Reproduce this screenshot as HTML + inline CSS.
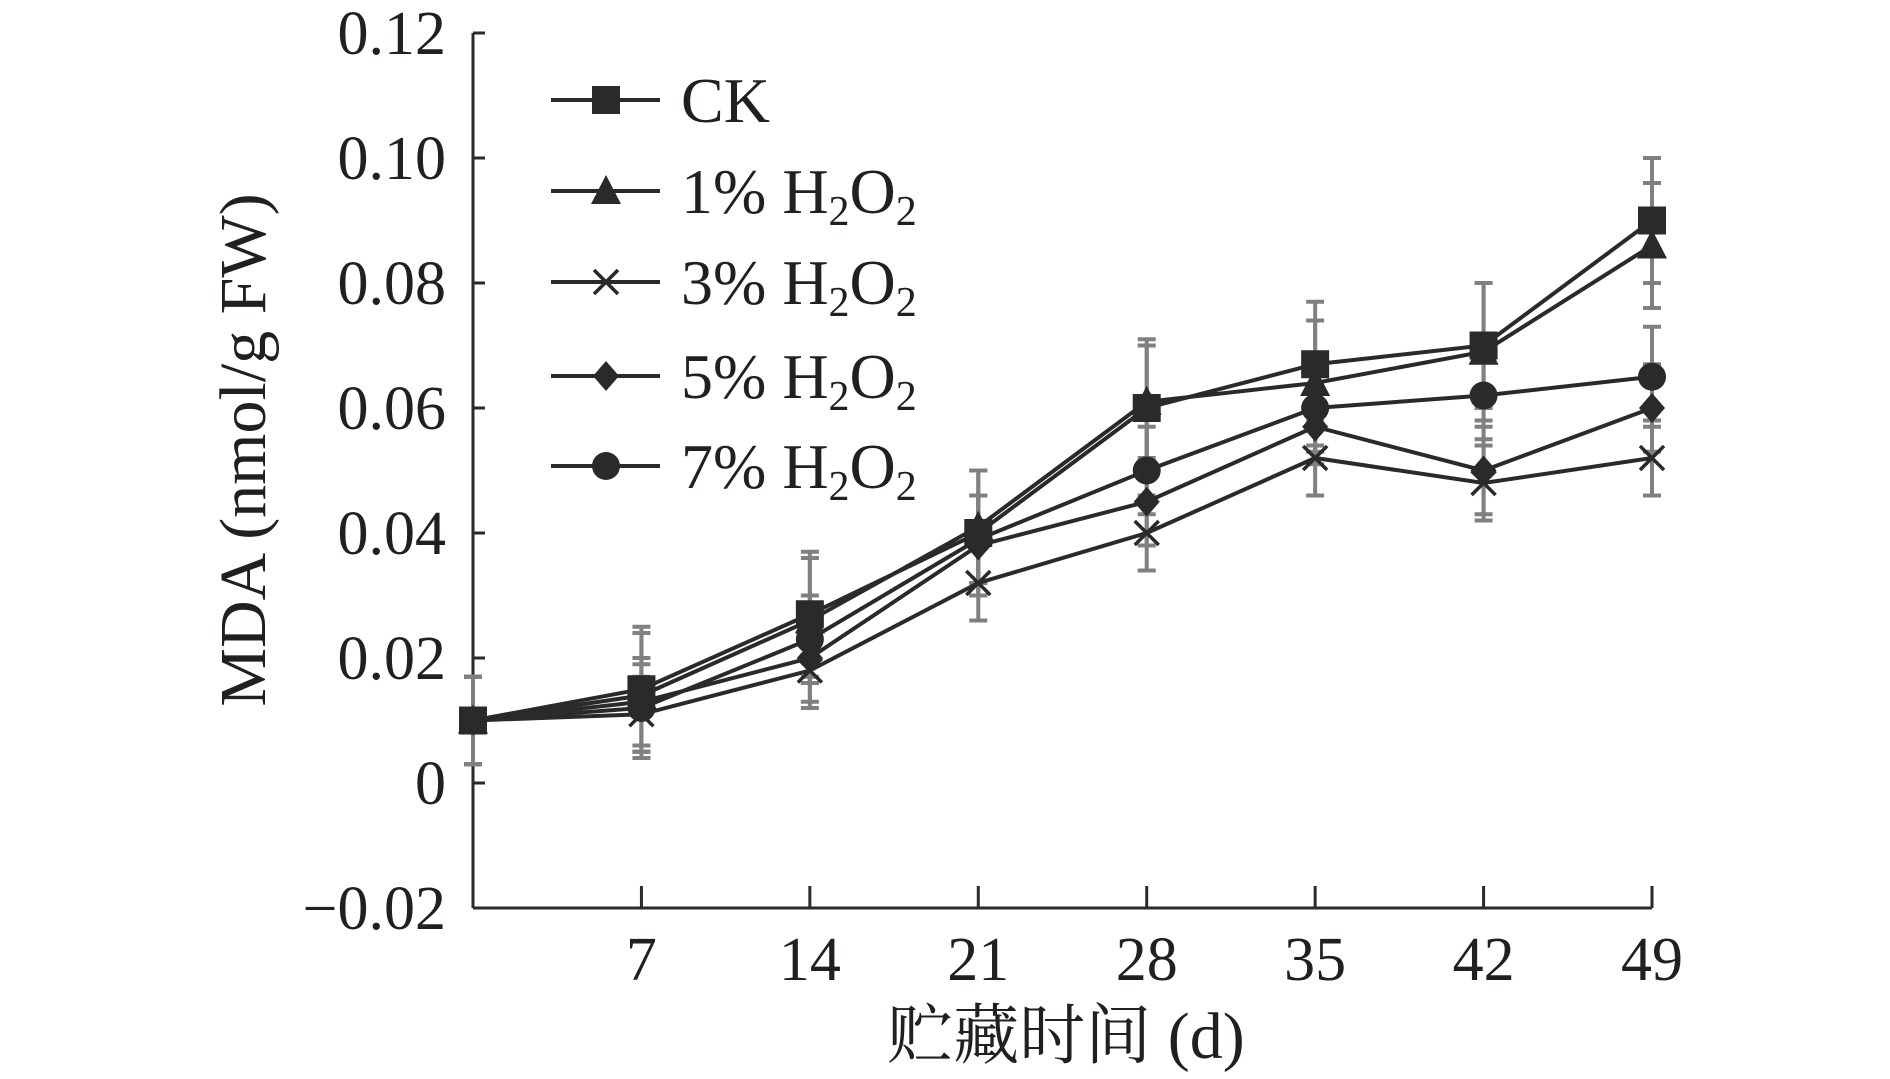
<!DOCTYPE html>
<html><head><meta charset="utf-8"><style>
html,body{margin:0;padding:0;background:#fff;}
svg{display:block;}
text{font-family:"Liberation Serif","Noto Serif CJK SC",serif;fill:#231f20;}
</style></head><body>
<svg id="chart" width="1890" height="1079" viewBox="0 0 1890 1079" xmlns="http://www.w3.org/2000/svg"></svg>
<script>
const days=[0,7,14,21,28,35,42,49];
const xTicks=[7,14,21,28,35,42,49];
const yTicks=[-0.02,0,0.02,0.04,0.06,0.08,0.10,0.12];
const yTickLabels=["\u22120.02","0","0.02","0.04","0.06","0.08","0.10","0.12"];
const seriesNames=["CK","1%","3%","5%","7%"];
const ck=[0.010,0.015,0.027,0.040,0.060,0.067,0.070,0.090];
const h1=[0.010,0.014,0.026,0.041,0.061,0.064,0.069,0.086];
const h3=[0.010,0.011,0.018,0.032,0.040,0.052,0.048,0.052];
const h5=[0.010,0.013,0.020,0.038,0.045,0.057,0.050,0.060];
const h7=[0.010,0.012,0.023,0.039,0.050,0.060,0.062,0.065];
const ckErr=[0.007,0.010,0.010,0.010,0.010,0.010,0.010,0.010];
const h1Err=[0.007,0.010,0.010,0.009,0.010,0.010,0.011,0.010];
const h3Err=[0.007,0.006,0.006,0.006,0.006,0.006,0.006,0.006];
const h5Err=[0.007,0.007,0.007,0.008,0.007,0.006,0.007,0.007];
const h7Err=[0.007,0.007,0.007,0.007,0.007,0.007,0.007,0.008];
const allVals=[ck,h1,h3,h5,h7];
const allErr=[ckErr,h1Err,h3Err,h5Err,h7Err];
const markers=["square","triangle","x","diamond","circle"];

const svg=document.getElementById('chart');
const NS="http://www.w3.org/2000/svg";
const X0=473,X1=1652,Y0=908,Y1=33;
const xs=d=>X0+(d-0)/(49-0)*(X1-X0);
const ys=v=>Y0-(v-(-0.02))/(0.12-(-0.02))*(Y0-Y1);
function el(tag,attrs,parent){const e=document.createElementNS(NS,tag);for(const k in attrs)e.setAttribute(k,attrs[k]);(parent||svg).appendChild(e);return e;}
const dark="#2a2a2a",grey="#808080";

const axes=el('g',{});


el('line',{x1:X0,y1:Y1,x2:X0,y2:Y0,stroke:dark,'stroke-width':3},axes);
el('line',{x1:X0,y1:Y0,x2:X1,y2:Y0,stroke:dark,'stroke-width':3},axes);
yTicks.forEach((v,i)=>{
  el('line',{x1:X0,y1:ys(v),x2:X0+12,y2:ys(v),stroke:dark,'stroke-width':3},axes);
  const t=el('text',{x:X0-27,y:ys(v)+21,'text-anchor':'end','font-size':62},axes);
  t.textContent=yTickLabels[i];
  
  
});
xTicks.forEach(d=>{
  el('line',{x1:xs(d),y1:Y0,x2:xs(d),y2:Y0-22,stroke:dark,'stroke-width':3},axes);
  const t=el('text',{x:xs(d),y:980,'text-anchor':'middle','font-size':62},axes);
  t.textContent=String(d);
  
  
});
const yt=el('text',{x:0,y:0,transform:'translate(265,450) rotate(-90)','text-anchor':'middle','font-size':66});
yt.textContent='MDA (nmol/g FW)';


const xt=el('text',{x:1066,y:1058,'text-anchor':'middle','font-size':66});
xt.textContent='贮藏时间 (d)';



function marker(type,cx,cy,g){
  const s=14;
  if(type==='square')el('rect',{x:cx-s,y:cy-s,width:2*s,height:2*s,fill:dark},g);
  else if(type==='triangle')el('polygon',{points:`${cx},${cy-s-2} ${cx+s+1},${cy+s-1} ${cx-s-1},${cy+s-1}`,fill:dark},g);
  else if(type==='x'){el('line',{x1:cx-12,y1:cy-12,x2:cx+12,y2:cy+12,stroke:dark,'stroke-width':3.5},g);el('line',{x1:cx-12,y1:cy+12,x2:cx+12,y2:cy-12,stroke:dark,'stroke-width':3.5},g);}
  else if(type==='diamond')el('polygon',{points:`${cx},${cy-15} ${cx+13},${cy} ${cx},${cy+15} ${cx-13},${cy}`,fill:dark},g);
  else el('circle',{cx:cx,cy:cy,r:14,fill:dark},g);
}
const eg=el('g',{});


allVals.forEach((vals,si)=>{
  vals.forEach((v,i)=>{
    const x=xs(days[i]),e=allErr[si][i];
    el('line',{x1:x,y1:ys(v+e),x2:x,y2:ys(v-e),stroke:grey,'stroke-width':4},eg);
    el('line',{x1:x-9,y1:ys(v+e),x2:x+9,y2:ys(v+e),stroke:grey,'stroke-width':4},eg);
    el('line',{x1:x-9,y1:ys(v-e),x2:x+9,y2:ys(v-e),stroke:grey,'stroke-width':4},eg);
  });
});
allVals.forEach((vals,si)=>{
  const g=el('g',{});
  
  
  el('polyline',{points:vals.map((v,i)=>xs(days[i])+','+ys(v)).join(' '),fill:'none',stroke:dark,'stroke-width':4},g);
  vals.forEach((v,i)=>marker(markers[si],xs(days[i]),ys(v),g));
});
const legY=[100,191,282,376,466];
const lg=el('g',{});


seriesNames.forEach((n,i)=>{
  const g=el('g',{},lg);
  
  
  el('line',{x1:551,y1:legY[i],x2:660,y2:legY[i],stroke:dark,'stroke-width':4},g);
  marker(markers[i],606,legY[i],g);
  const t=el('text',{x:681,y:legY[i]+22,'font-size':64},g);
  if(i===0)t.textContent='CK';
  else t.innerHTML=n+' H<tspan font-size="42" dy="12">2</tspan><tspan dy="-12">O</tspan><tspan font-size="42" dy="12">2</tspan>';
});
</script>
</body></html>
